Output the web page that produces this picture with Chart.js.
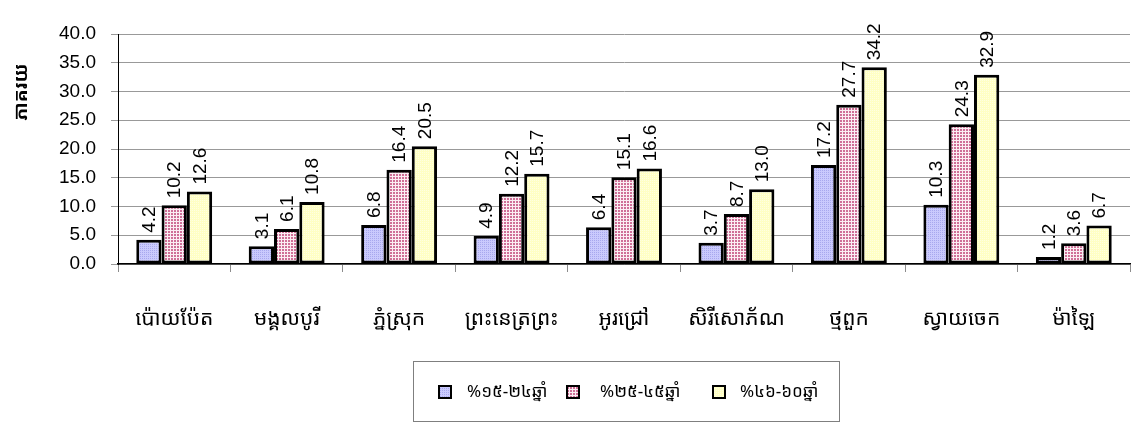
<!DOCTYPE html>
<html>
<head>
<meta charset="utf-8">
<script src="https://cdn.jsdelivr.net/npm/chart.js@4.4.1/dist/chart.umd.min.js"></script>
<style>
  html, body { margin: 0; padding: 0; background: #fff; }
  #wrap { width: 1132px; height: 423px; }
</style>
</head>
<body>
<div id="wrap"><canvas id="c" width="1132" height="423"></canvas></div>
<script>
/* percentage by age group, per district */
var districts = ['ប៉ោយប៉ែត', 'មង្គលបូរី', 'ភ្នំស្រុក', 'ព្រះនេត្រព្រះ', 'អូរជ្រៅ', 'សិរីសោភ័ណ', 'ថ្មពួក', 'ស្វាយចេក', 'ម៉ាឡៃ'];
var groupNames = ['%១៥-២៤ឆ្នាំ', '%២៥-៤៥ឆ្នាំ', '%៤៦-៦០ឆ្នាំ'];
var age15to24 = [4.2, 3.1, 6.8, 4.9, 6.4, 3.7, 17.2, 10.3, 1.2];
var age25to45 = [10.2, 6.1, 16.4, 12.2, 15.1, 8.7, 27.7, 24.3, 3.6];
var age46to60 = [12.6, 10.8, 20.5, 15.7, 16.6, 13.0, 34.2, 32.9, 6.7];
var yTicks = [0, 5, 10, 15, 20, 25, 30, 35, 40];
var yTitle = 'ភាគរយ';

var KHMER = "'Khmer OS', 'Khmer OS System', 'Noto Sans Khmer', 'Noto Serif Khmer', 'DejaVu Sans', sans-serif";
var LATIN = "'Liberation Sans', Arial, sans-serif";

/* small dotted fills, like the old office hatch patterns */
function tile(bg, dot, step, offs) {
  var t = document.createElement('canvas');
  t.width = step; t.height = step;
  var g = t.getContext('2d');
  g.fillStyle = bg; g.fillRect(0, 0, step, step);
  g.fillStyle = dot;
  offs.forEach(function (p) { g.fillRect(p[0], p[1], 1, 1); });
  return document.getElementById('c').getContext('2d').createPattern(t, 'repeat');
}
var fills = [
  tile('#cacafd', '#a8a8ee', 2, [[0, 0]]),
  tile('#fbeef3', '#cf6f97', 3, [[0, 0], [1, 0], [0, 1], [1, 1]]),
  tile('#ffffc4', '#ffffe2', 2, [[0, 0]])
];

/* rotated value labels above each bar, plus y title and boxed legend */
var extras = {
  id: 'extras',
  afterDatasetsDraw: function (chart) {
    var ctx = chart.ctx;
    ctx.save();
    ctx.fillStyle = '#000';
    ctx.font = '19px ' + LATIN;
    ctx.textAlign = 'left';
    ctx.textBaseline = 'middle';
    chart.data.datasets.forEach(function (ds, i) {
      chart.getDatasetMeta(i).data.forEach(function (bar, j) {
        ctx.save();
        ctx.translate(bar.x + 1, bar.y - 7);
        ctx.rotate(-Math.PI / 2);
        ctx.fillText(ds.data[j].toFixed(1), 0, 0);
        ctx.restore();
      });
    });
    ctx.restore();
  },
  afterDraw: function (chart) {
    var ctx = chart.ctx;
    ctx.save();
    // y axis title
    ctx.translate(22, 92);
    ctx.rotate(-Math.PI / 2);
    ctx.font = 'bold 19px ' + KHMER;
    ctx.textAlign = 'center';
    ctx.textBaseline = 'middle';
    ctx.fillStyle = '#000';
    ctx.fillText(yTitle, 0, 0);
    ctx.restore();

    // legend frame
    ctx.save();
    ctx.strokeStyle = '#7f7f7f';
    ctx.lineWidth = 1;
    ctx.strokeRect(413.5, 361.5, 426, 60);
    var marks = [439, 567, 713];
    var texts = [467, 600, 740];
    ctx.font = '17px ' + KHMER;
    ctx.textBaseline = 'middle';
    ctx.textAlign = 'left';
    groupNames.forEach(function (name, i) {
      ctx.fillStyle = fills[i];
      ctx.fillRect(marks[i], 386, 12, 12);
      ctx.strokeStyle = '#000';
      ctx.lineWidth = 2;
      ctx.strokeRect(marks[i], 386, 12, 12);
      ctx.fillStyle = '#000';
      ctx.fillText(name, texts[i], 392);
    });
    ctx.restore();
  }
};

function ds(label, data, i) {
  return {
    label: label, data: data, backgroundColor: fills[i],
    borderColor: '#000', borderWidth: 3, borderSkipped: false,
    categoryPercentage: 0.675, barPercentage: 1
  };
}

new Chart(document.getElementById('c'), {
  type: 'bar',
  data: {
    labels: districts,
    datasets: [
      ds(groupNames[0], age15to24, 0),
      ds(groupNames[1], age25to45, 1),
      ds(groupNames[2], age46to60, 2)
    ]
  },
  options: {
    responsive: false,
    animation: false,
    events: [],
    layout: { padding: { top: 34, right: 2, left: 0, bottom: 0 } },
    plugins: { legend: { display: false }, tooltip: { enabled: false } },
    scales: {
      x: {
        grid: { offset: true, drawOnChartArea: false, drawTicks: true, tickLength: 8, color: '#8c8c8c' },
        border: { display: true, color: '#000', width: 1.5 },
        ticks: { color: '#000', font: { family: KHMER, size: 21 }, padding: 34, maxRotation: 0, autoSkip: false },
        afterFit: function (s) { s.height = 159; }
      },
      y: {
        min: 0, max: 40,
        afterBuildTicks: function (s) { s.ticks = yTicks.map(function (v) { return { value: v }; }); },
        grid: { color: '#999', tickLength: 7, lineWidth: 1 },
        border: { display: true, color: '#000', width: 1 },
        ticks: {
          color: '#000', font: { family: LATIN, size: 19 }, padding: 15,
          callback: function (v) { return Number(v).toFixed(1); }
        },
        afterFit: function (s) { s.width = 118; }
      }
    }
  },
  plugins: [extras]
});
</script>
</body>
</html>
